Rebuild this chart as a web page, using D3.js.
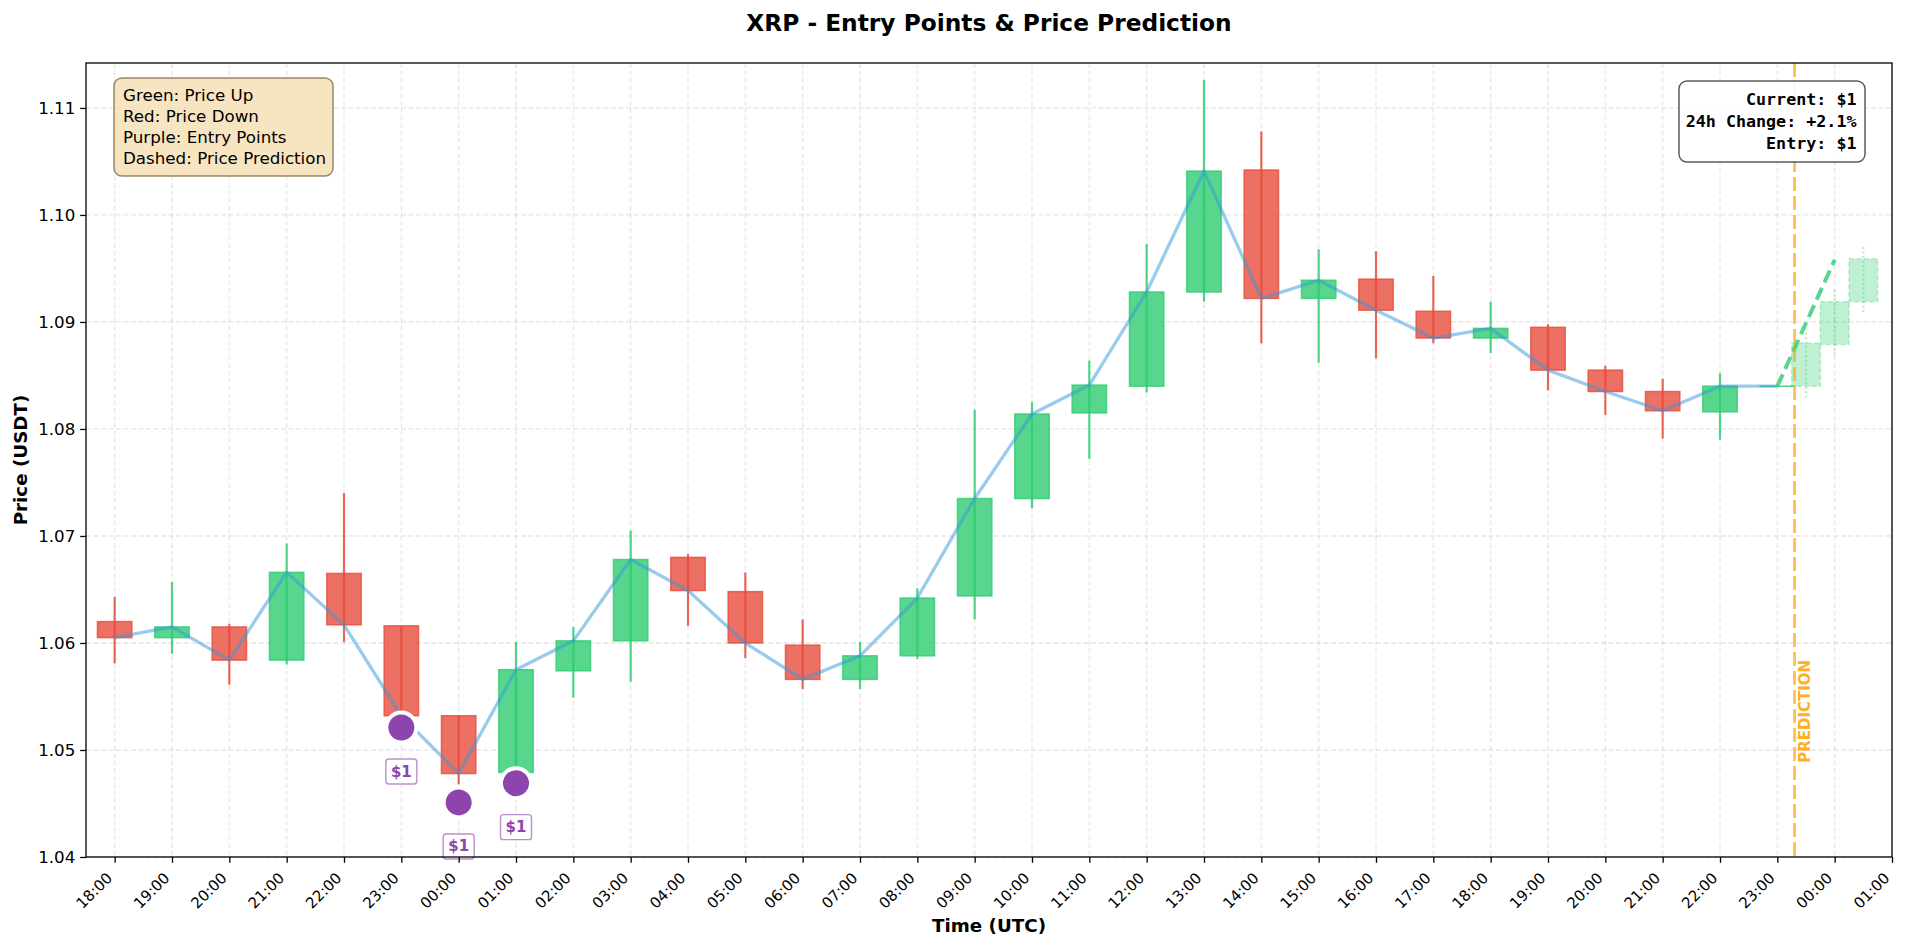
<!DOCTYPE html>
<html>
<head>
<meta charset="utf-8">
<script src="https://cdn.jsdelivr.net/npm/d3@7"></script>
<style>
  body { margin: 0; background: #fff; }
  svg { font-family: "DejaVu Sans", sans-serif; }
</style>
</head>
<body>
<svg width="1905" height="947"></svg>
<script>
// hourly candles (UTC)
var candleTimes = [
    "2024-01-01 18:00", "2024-01-01 19:00", "2024-01-01 20:00", "2024-01-01 21:00", "2024-01-01 22:00", "2024-01-01 23:00",
    "2024-01-02 00:00", "2024-01-02 01:00", "2024-01-02 02:00", "2024-01-02 03:00", "2024-01-02 04:00", "2024-01-02 05:00",
    "2024-01-02 06:00", "2024-01-02 07:00", "2024-01-02 08:00", "2024-01-02 09:00", "2024-01-02 10:00", "2024-01-02 11:00",
    "2024-01-02 12:00", "2024-01-02 13:00", "2024-01-02 14:00", "2024-01-02 15:00", "2024-01-02 16:00", "2024-01-02 17:00",
    "2024-01-02 18:00", "2024-01-02 19:00", "2024-01-02 20:00", "2024-01-02 21:00", "2024-01-02 22:00", "2024-01-02 23:00"
];
var opens  = [1.0620, 1.0605, 1.0615, 1.0584, 1.0665, 1.0616, 1.0532, 1.0479, 1.0574, 1.0602, 1.0680, 1.0648, 1.0598, 1.0566, 1.0588,
              1.0644, 1.0735, 1.0815, 1.0840, 1.0928, 1.1042, 1.0922, 1.0940, 1.0910, 1.0885, 1.0895, 1.0855, 1.0835, 1.0816, 1.0840];
var highs  = [1.0643, 1.0657, 1.0618, 1.0693, 1.0740, 1.0616, 1.0532, 1.0601, 1.0615, 1.0705, 1.0683, 1.0666, 1.0622, 1.0601, 1.0651,
              1.0818, 1.0825, 1.0864, 1.0973, 1.1126, 1.1078, 1.0968, 1.0966, 1.0943, 1.0919, 1.0898, 1.0859, 1.0847, 1.0852, 1.0840];
var lows   = [1.0581, 1.0590, 1.0561, 1.0580, 1.0601, 1.0525, 1.0468, 1.0478, 1.0549, 1.0564, 1.0616, 1.0586, 1.0557, 1.0557, 1.0585,
              1.0622, 1.0726, 1.0772, 1.0834, 1.0919, 1.0880, 1.0862, 1.0866, 1.0880, 1.0871, 1.0836, 1.0813, 1.0791, 1.0790, 1.0840];
var closes = [1.0605, 1.0615, 1.0584, 1.0666, 1.0617, 1.0532, 1.0478, 1.0575, 1.0602, 1.0678, 1.0649, 1.0600, 1.0566, 1.0588, 1.0642,
              1.0735, 1.0814, 1.0841, 1.0928, 1.1041, 1.0922, 1.0939, 1.0911, 1.0885, 1.0894, 1.0855, 1.0835, 1.0817, 1.0840, 1.0840];

// prediction candles + dashed projection
var predTimes = ["2024-01-02 23:30", "2024-01-03 00:00", "2024-01-03 00:30"];
var predOpens  = [1.0840, 1.0879, 1.0919];
var predHighs  = [1.0890, 1.0930, 1.0970];
var predLows   = [1.0828, 1.0868, 1.0907];
var predCloses = [1.0880, 1.0919, 1.0959];
var predLineTimes  = ["2024-01-02 23:00", "2024-01-03 00:00"];
var predLinePrices = [1.0840, 1.0958];
var nowTime = "2024-01-02 23:18";

// entry points
var entryTimes  = ["2024-01-01 23:00", "2024-01-02 00:00", "2024-01-02 01:00"];
var entryPrices = [1.0521, 1.0451, 1.0469];
var entryLabels = ["$1", "$1", "$1"];

var legendLines = ["Green: Price Up", "Red: Price Down", "Purple: Entry Points", "Dashed: Price Prediction"];
var infoLines = ["Current: $1", "24h Change: +2.1%", "Entry: $1"];

var xDomain = ["2024-01-01 17:30", "2024-01-03 01:00"];
var yDomain = [1.04, 1.1142];

var parse = d3.utcParse("%Y-%m-%d %H:%M");

var svg = d3.select("svg"),
    margin = { top: 63, right: 13, bottom: 90, left: 86 },
    width = +svg.attr("width") - margin.left - margin.right,
    height = +svg.attr("height") - margin.top - margin.bottom,
    g = svg.append("g").attr("transform", "translate(" + margin.left + "," + margin.top + ")");

var GREEN = "#2ecc71", RED = "#e74c3c", PURPLE = "#8e44ad", BLUE = "#3498db", ORANGE = "#ffa500";

var x = d3.scaleUtc().domain(xDomain.map(parse)).range([0, width]);
var y = d3.scaleLinear().domain(yDomain).range([height, 0]);
var hourPx = x(parse("2024-01-01 19:00")) - x(parse("2024-01-01 18:00"));

var candles = candleTimes.map(function (t, i) {
    return { t: parse(t), o: opens[i], h: highs[i], l: lows[i], c: closes[i] };
});
var preds = predTimes.map(function (t, i) {
    return { t: parse(t), o: predOpens[i], h: predHighs[i], l: predLows[i], c: predCloses[i] };
});

var xTicks = d3.utcHour.every(1).range(parse("2024-01-01 18:00"), d3.utcMinute.offset(x.domain()[1], 1));

// grid
g.append("g").selectAll("line").data(xTicks).enter().append("line")
    .attr("x1", function (d) { return x(d); }).attr("x2", function (d) { return x(d); })
    .attr("y1", 0).attr("y2", height)
    .attr("stroke", "#b0b0b0").attr("stroke-opacity", 0.3).attr("stroke-width", 1.3).attr("stroke-dasharray", "5,2.5");
g.append("g").selectAll("line").data(y.ticks(8)).enter().append("line")
    .attr("x1", 0).attr("x2", width)
    .attr("y1", function (d) { return y(d); }).attr("y2", function (d) { return y(d); })
    .attr("stroke", "#b0b0b0").attr("stroke-opacity", 0.3).attr("stroke-width", 1.3).attr("stroke-dasharray", "5,2.5");

// candles
var bodyW = hourPx * 0.6;
var cg = g.append("g");
candles.forEach(function (d) {
    var col = d.c >= d.o ? GREEN : RED;
    var top = y(Math.max(d.o, d.c)), bot = y(Math.min(d.o, d.c));
    cg.append("rect")
        .attr("x", x(d.t) - bodyW / 2).attr("y", top)
        .attr("width", bodyW).attr("height", Math.max(bot - top, 0.05))   // keep doji visible
        .attr("fill", col).attr("fill-opacity", 0.8)
        .attr("stroke", col).attr("stroke-opacity", 0.8).attr("stroke-width", 1.5);
    cg.append("line")
        .attr("x1", x(d.t)).attr("x2", x(d.t))
        .attr("y1", y(d.h)).attr("y2", y(d.l))
        .attr("stroke", col).attr("stroke-opacity", 0.85).attr("stroke-width", 2.2);
});

// prediction candles
var predW = hourPx * 0.5;
preds.forEach(function (d) {
    var top = y(Math.max(d.o, d.c)), bot = y(Math.min(d.o, d.c));
    cg.append("line")
        .attr("x1", x(d.t)).attr("x2", x(d.t))
        .attr("y1", y(d.h)).attr("y2", y(d.l))
        .attr("stroke", GREEN).attr("stroke-opacity", 0.35).attr("stroke-width", 2.2).attr("stroke-dasharray", "2,2.5");
    cg.append("rect")
        .attr("x", x(d.t) - predW / 2).attr("y", top)
        .attr("width", predW).attr("height", bot - top)
        .attr("fill", GREEN).attr("fill-opacity", 0.3)
        .attr("stroke", GREEN).attr("stroke-opacity", 0.3).attr("stroke-width", 1.5).attr("stroke-dasharray", "5,2.5");
});

// close line
var line = d3.line()
    .x(function (d) { return x(d.t); })
    .y(function (d) { return y(d.c); });
g.append("path")
    .datum(candles)
    .attr("fill", "none")
    .attr("stroke", BLUE)
    .attr("stroke-opacity", 0.5)
    .attr("stroke-width", 3.3)
    .attr("stroke-linejoin", "round")
    .attr("d", line);

// prediction line
g.append("path")
    .datum(predLineTimes.map(function (t, i) { return { t: parse(t), c: predLinePrices[i] }; }))
    .attr("fill", "none")
    .attr("stroke", GREEN)
    .attr("stroke-opacity", 0.8)
    .attr("stroke-width", 4)
    .attr("stroke-dasharray", "13,6")
    .attr("d", line);

// "now" marker
var xn = x(parse(nowTime));
g.append("line")
    .attr("x1", xn).attr("x2", xn).attr("y1", 0).attr("y2", height)
    .attr("stroke", ORANGE).attr("stroke-opacity", 0.7).attr("stroke-width", 2.8).attr("stroke-dasharray", "14,5");
g.append("text")
    .attr("transform", "translate(" + (xn + 10) + "," + y(1.0488) + ") rotate(-90)")
    .attr("dominant-baseline", "central")
    .attr("fill", ORANGE).attr("fill-opacity", 0.9)
    .attr("font-size", 15).attr("font-weight", "bold")
    .text("PREDICTION");

// entry points
var entries = entryTimes.map(function (t, i) { return { t: parse(t), p: entryPrices[i], label: entryLabels[i] }; });
g.append("g").selectAll("circle").data(entries).enter().append("circle")
    .attr("cx", function (d) { return x(d.t); })
    .attr("cy", function (d) { return y(d.p); })
    .attr("r", 15)
    .attr("fill", PURPLE)
    .attr("stroke", "#fff").attr("stroke-width", 4);
var lab = g.append("g").selectAll("g").data(entries).enter().append("g")
    .attr("transform", function (d) { return "translate(" + x(d.t) + "," + (y(d.p) + 44) + ")"; });
lab.append("rect")
    .attr("x", -15.5).attr("y", -12.5).attr("width", 31).attr("height", 25).attr("rx", 3)
    .attr("fill", "#fff").attr("stroke", PURPLE).attr("stroke-opacity", 0.6).attr("stroke-width", 1.4);
lab.append("text")
    .attr("text-anchor", "middle").attr("dominant-baseline", "central")
    .attr("fill", PURPLE).attr("font-size", 15).attr("font-weight", "bold")
    .text(function (d) { return d.label; });

// axes
var yAxis = g.append("g")
    .call(d3.axisLeft(y).ticks(8).tickFormat(d3.format(".2f")).tickSize(5.8).tickPadding(4.9));
yAxis.selectAll("text").attr("font-size", 16.7).attr("font-family", "DejaVu Sans").attr("fill", "#000");

var xAxis = g.append("g")
    .attr("transform", "translate(0," + height + ")")
    .call(d3.axisBottom(x).tickValues(xTicks).tickFormat(d3.utcFormat("%H:%M")).tickSize(5.8));
xAxis.selectAll("text")
    .attr("font-size", 15).attr("font-family", "DejaVu Sans").attr("fill", "#000")
    .attr("text-anchor", "end")
    .attr("y", null).attr("dy", null)
    .attr("transform", "translate(-2,22) rotate(-45)");
g.selectAll(".domain").remove();
g.selectAll(".tick line").attr("stroke", "#000").attr("stroke-width", 1.3);

// frame
g.append("rect")
    .attr("width", width).attr("height", height)
    .attr("fill", "none").attr("stroke", "#000").attr("stroke-width", 1.3);

// legend box
var lg = g.append("g").attr("transform", "translate(28,15)");
lg.append("rect")
    .attr("width", 219).attr("height", 98).attr("rx", 8)
    .attr("fill", "#f5deb3").attr("fill-opacity", 0.8)
    .attr("stroke", "#8b7355").attr("stroke-opacity", 0.85).attr("stroke-width", 1.5);
lg.selectAll("text").data(legendLines).enter().append("text")
    .attr("x", 9).attr("y", function (d, i) { return 22.5 + i * 21; })
    .attr("font-size", 16.7).attr("fill", "#000")
    .text(function (d) { return d; });

// info box
var ib = g.append("g").attr("transform", "translate(" + (width - 213) + ",18)");
ib.append("rect")
    .attr("width", 186).attr("height", 81).attr("rx", 8)
    .attr("fill", "#fff").attr("fill-opacity", 0.9)
    .attr("stroke", "#333").attr("stroke-opacity", 0.8).attr("stroke-width", 1.5);
ib.selectAll("text").data(infoLines).enter().append("text")
    .attr("x", 177.5).attr("y", function (d, i) { return 23.5 + i * 22; })
    .attr("text-anchor", "end")
    .attr("font-family", "DejaVu Sans Mono").attr("font-weight", "bold")
    .attr("font-size", 16.7).attr("fill", "#000")
    .text(function (d) { return d; });

// titles
svg.append("text")
    .attr("x", margin.left + width / 2).attr("y", 22)
    .attr("text-anchor", "middle").attr("dominant-baseline", "central")
    .attr("font-size", 23.3).attr("font-weight", "bold")
    .text("XRP - Entry Points & Price Prediction");
svg.append("text")
    .attr("x", margin.left + width / 2).attr("y", 925)
    .attr("text-anchor", "middle").attr("dominant-baseline", "central")
    .attr("font-size", 18.3).attr("font-weight", "bold")
    .text("Time (UTC)");
svg.append("text")
    .attr("transform", "translate(20," + (margin.top + height / 2) + ") rotate(-90)")
    .attr("text-anchor", "middle").attr("dominant-baseline", "central")
    .attr("font-size", 18.3).attr("font-weight", "bold")
    .text("Price (USDT)");
</script>
</body>
</html>
